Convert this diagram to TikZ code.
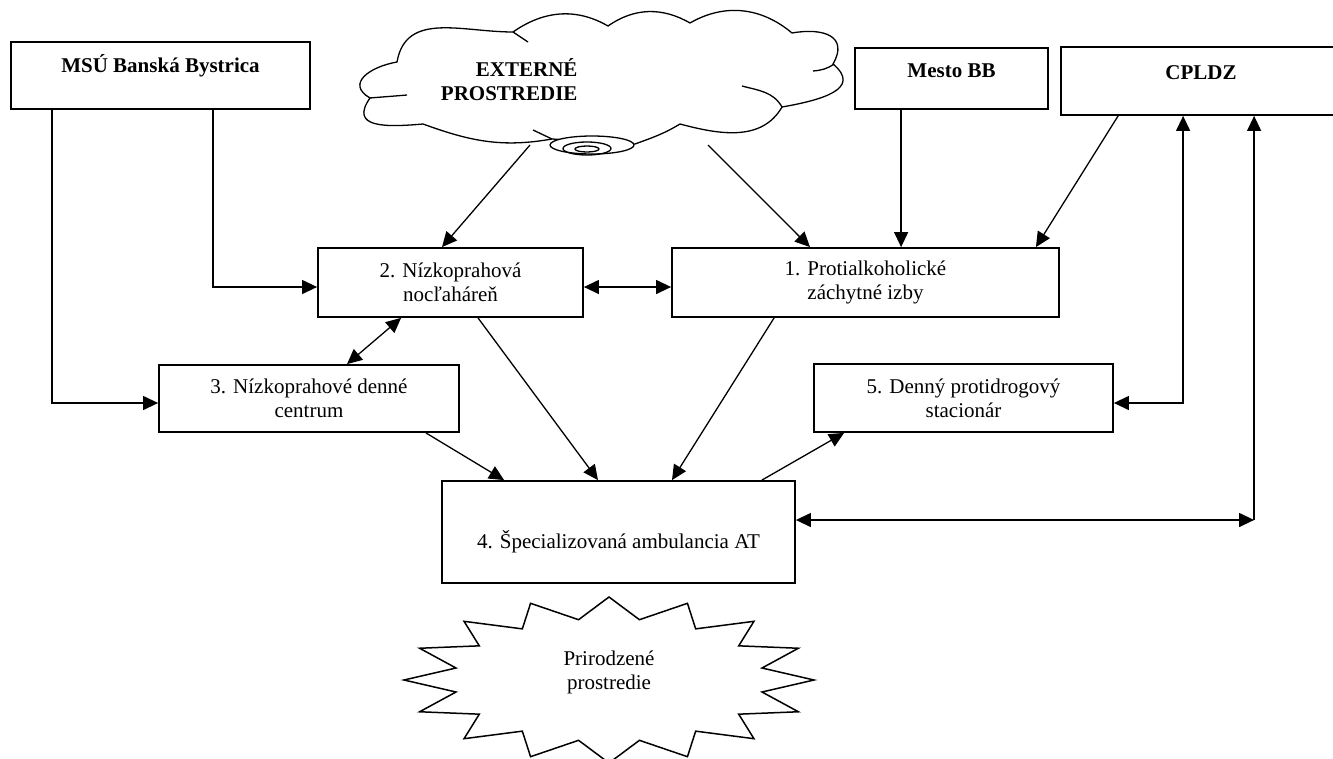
\documentclass[tikz,border=0pt]{standalone}
\usepackage{fontspec}
\setmainfont{Liberation Serif}
\usetikzlibrary{calc,arrows.meta}

\begin{document}
\begin{tikzpicture}[x=1pt,y=-1pt,
    font=\fontsize{21}{24}\selectfont,
    box/.style={draw,line width=1.8pt,inner sep=0pt,align=center},
    head/.style={font=\fontsize{21}{24}\selectfont\bfseries},
    arr/.style={line width=1.3pt,-{Triangle[length=15pt,width=14pt]}},
    darr/.style={line width=1.3pt,{Triangle[length=15pt,width=14pt]}-{Triangle[length=15pt,width=14pt]}}]
  \useasboundingbox (0,0) rectangle (1333,758);

  % cloud
  \draw[line width=1.3pt,fill=white]
    (397,62) to[out=80,in=180,looseness=1.1] (513,32)
    to[out=35,in=150] (608,26)
    to[out=35,in=150] (690,23)
    to[out=30,in=140] (792,33)
    to[out=10,in=60,looseness=1.6] (833,64)
    to[out=-40,in=10,looseness=1.5] (782,107)
    to[out=240,in=-15] (680,124)
    to[out=211,in=20] (635,144)
    -- (552,139)
    to[out=190,in=-20] (423,124)
    to[out=185,in=235,looseness=1.6] (370,98)
    to[out=150,in=190,looseness=1.6] (397,62) -- cycle;
  \draw[line width=1.3pt] (513,32) -- (528,42);
  \draw[line width=1.3pt] (834,64) to[out=215,in=5] (813,71);
  \draw[line width=1.3pt] (782,107) to[out=120,in=-15] (742,86);
  \draw[line width=1.3pt] (370,98) to[out=5,in=185] (407,95);
  \draw[line width=1.3pt] (552,139) -- (533,130);
  \draw[line width=1.3pt,fill=white] (592,145) ellipse [x radius=42pt,y radius=9pt];
  \draw[line width=1.3pt] (587,148.5) ellipse [x radius=24pt,y radius=6.5pt];
  \draw[line width=1.3pt] (587,149) ellipse [x radius=12pt,y radius=3pt];
  \node[head,align=right,anchor=east] (ext) at (581,80) {EXTERNÉ\\PROSTREDIE};
  \coordinate (extl) at (530,145);
  \coordinate (extr) at (708,145);

  % top row
  \node[box,head,minimum width=299pt,minimum height=67pt] (msu) at (160.5,75.5) {MSÚ Banská Bystrica\\\mbox{}};
  \node[box,head,minimum width=193pt,minimum height=61pt] (mesto) at (951.5,78.5) {Mesto BB\\[-8pt]\mbox{}};
  \node[box,head,minimum width=280pt,minimum height=68pt] (cpldz) at (1201,81) {CPLDZ\\[-8pt]\mbox{}};

  % services
  \node[box,minimum width=265pt,minimum height=69pt] (n2) at (450.5,282.5) {2. Nízkoprahová\\nocľaháreň};
  \node[box,minimum width=387pt,minimum height=69pt] (n1) at (865.5,282.5) {1. Protialkoholické\\záchytné izby};
  \node[box,minimum width=300pt,minimum height=67pt] (n3) at (309,398.5) {3. Nízkoprahové denné\\centrum};
  \node[box,minimum width=299pt,minimum height=68pt] (n5) at (963.5,398) {5. Denný protidrogový\\stacionár};
  \node[box,minimum width=353pt,minimum height=102pt] (n4) at (618.5,532) {\mbox{}\\[14pt]4. Špecializovaná ambulancia AT};

  % starburst
  \coordinate (sbc) at (609,680);
  \draw[line width=1.5pt] ($(sbc)+(0:205 and 83)$)
    \foreach \a in {0,22.5,...,337.5} { -- ($(sbc)+(\a+11.25:156 and 61.5)$) -- ($(sbc)+(\a+22.5:205 and 83)$) } -- cycle;
  \node[align=center] (nature) at (609,672) {Prirodzené\\prostredie};

  % connectors
  \draw[arr] ([xshift=42pt]msu.south west) |- ([yshift=-4.5pt]n3.west);
  \draw[arr] ([xshift=-98pt]msu.south east) |- ([yshift=-4.5pt]n2.west);
  \draw[arr] (extl) -- ([xshift=-8.5pt]n2.north);
  \draw[arr] (extr) -- ([xshift=-55.5pt]n1.north);
  \coordinate (mb) at ([xshift=47pt]mesto.south west);
  \draw[arr] (mb) -- (mb |- n1.north);
  \draw[arr] ([xshift=58pt]cpldz.south west) -- ([xshift=-24pt]n1.north east);
  \draw[darr] ([yshift=-5pt]n5.east) -| ([xshift=123pt]cpldz.south west);
  \coordinate (k4) at ([xshift=194pt]cpldz.south west);
  \coordinate (a4) at ([yshift=12pt]n4.east);
  \draw[darr] (a4) -- (a4 -| k4);
  \draw[arr] (a4 -| k4) -- (k4);
  \draw[darr] ([yshift=-4.5pt]n2.east) -- ([yshift=-4.5pt]n1.west);
  \draw[darr] ([xshift=84pt]n2.south west) -- ([xshift=38pt]n3.north);
  \draw[arr] ([xshift=-34pt]n3.south east) -- ([xshift=63pt]n4.north west);
  \draw[arr] ([xshift=27.5pt]n2.south) -- ([xshift=-20.5pt]n4.north);
  \draw[arr] ([xshift=103pt]n1.south west) -- ([xshift=53.5pt]n4.north);
  \draw[arr] ([xshift=-34pt]n4.north east) -- ([xshift=31pt]n5.south west);
\end{tikzpicture}
\end{document}
